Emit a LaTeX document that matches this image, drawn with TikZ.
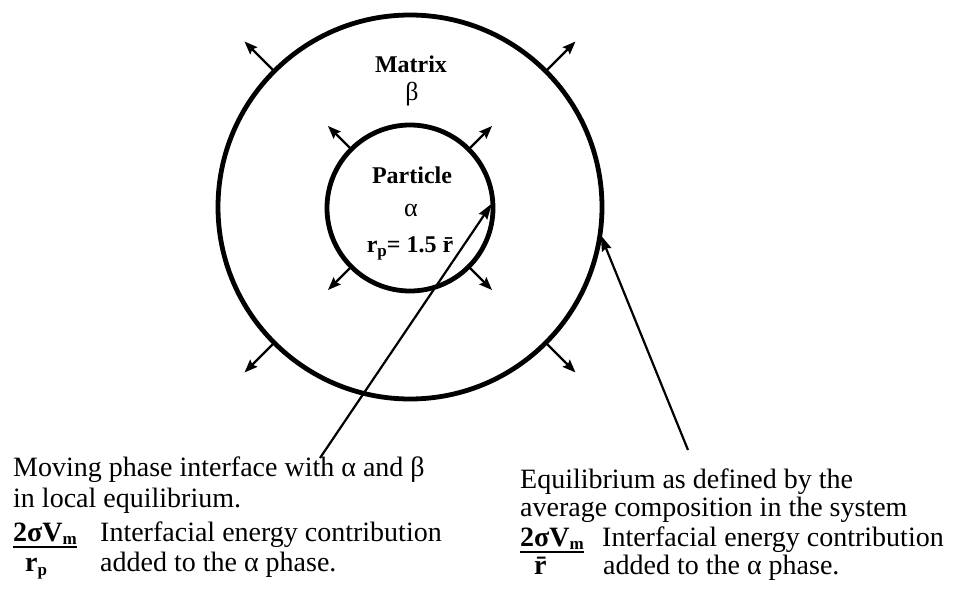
\documentclass[tikz,border=0pt]{standalone}
\usepackage{fontspec}
\setmainfont{Liberation Serif}
\usetikzlibrary{arrows.meta,calc}
\begin{document}
\begin{tikzpicture}[x=1pt,y=-1pt,
  ring/.style={draw, circle, line width=4.8pt, inner sep=0pt, outer sep=0pt},
  radial/.style={line width=2.2pt, -{Stealth[length=13pt,width=10pt,inset=2pt]}},
  pointer/.style={line width=2.2pt, shorten >=1.5pt, -{Stealth[length=16pt,width=10pt,inset=2pt]}},
  inlbl/.style={inner sep=0pt, anchor=base, font=\bfseries\fontsize{24}{28}\selectfont},
  greek/.style={inner sep=0pt, anchor=base, font=\fontsize{26}{28}\selectfont},
  txt/.style={inner sep=0pt, anchor=base west, font=\fontsize{28}{31}\selectfont},
  frac/.style={inner sep=0pt, anchor=base west, font=\bfseries\fontsize{28}{31}\selectfont},
  bar/.style={line width=2pt}
]
\useasboundingbox (0,0) rectangle (953,592);

% circles
\node[ring, minimum size=384pt] (outer) at (410,207) {};
\node[ring, minimum size=166pt] (inner) at (410,208) {};

% labels inside
\node[inlbl] (matrix) at (411,72) {Matrix};
\node[greek] (beta) at (412,100) {β};
\node[inlbl] (particle) at (412,183) {Particle};
\node[greek] (alpha) at (411,216) {α};
\node[inlbl] (rp) at (410,252) {r\raisebox{-0.4ex}{\fontsize{17}{17}\selectfont p}= 1.5 \=r};

% radial arrows (outer)
\foreach \a in {45,135,225,315}
  \draw[radial] (outer.\a) -- ($(outer.\a)!-42pt!(outer.center)$);
% radial arrows (inner)
\foreach \a in {45,135,225,315}
  \draw[radial] (inner.\a) -- ($(inner.\a)!-33pt!(inner.center)$);

% left text block
\node[txt] (l1) at (13,476) {Moving phase interface with α and β};
\node[txt] (l2) at (13,507) {in local equilibrium.};
\node[frac] (lnum) at (13,541) {2σV\raisebox{-0.25ex}{\fontsize{17}{17}\selectfont m}};
\draw[bar] ([yshift=-6pt]lnum.base west) -- ([yshift=-6pt]lnum.base east);
\node[frac] (lden) at (25,571) {r\raisebox{-0.35ex}{\fontsize{17}{17}\selectfont p}};
\node[txt] (l3) at (100,541) {Interfacial energy contribution};
\node[txt] (l4) at (100,571) {added to the α phase.};

% right text block
\node[txt] (r1) at (520,488) {Equilibrium as defined by the};
\node[txt] (r2) at (520,516) {average composition in the system};
\node[frac] (rnum) at (520,546) {2σV\raisebox{-0.25ex}{\fontsize{17}{17}\selectfont m}};
\draw[bar] ([yshift=-6pt]rnum.base west) -- ([yshift=-6pt]rnum.base east);
\node[frac] (rden) at (534,574) {\=r};
\node[txt] (r3) at (602,546) {Interfacial energy contribution};
\node[txt] (r4) at (603,574) {added to the α phase.};

% pointers
\coordinate (t1) at (320,458);
\coordinate (t2) at (688,450);
\draw[pointer] (t1) -- (inner.4);
\draw[pointer] (t2) -- (outer.-8);
\end{tikzpicture}
\end{document}
